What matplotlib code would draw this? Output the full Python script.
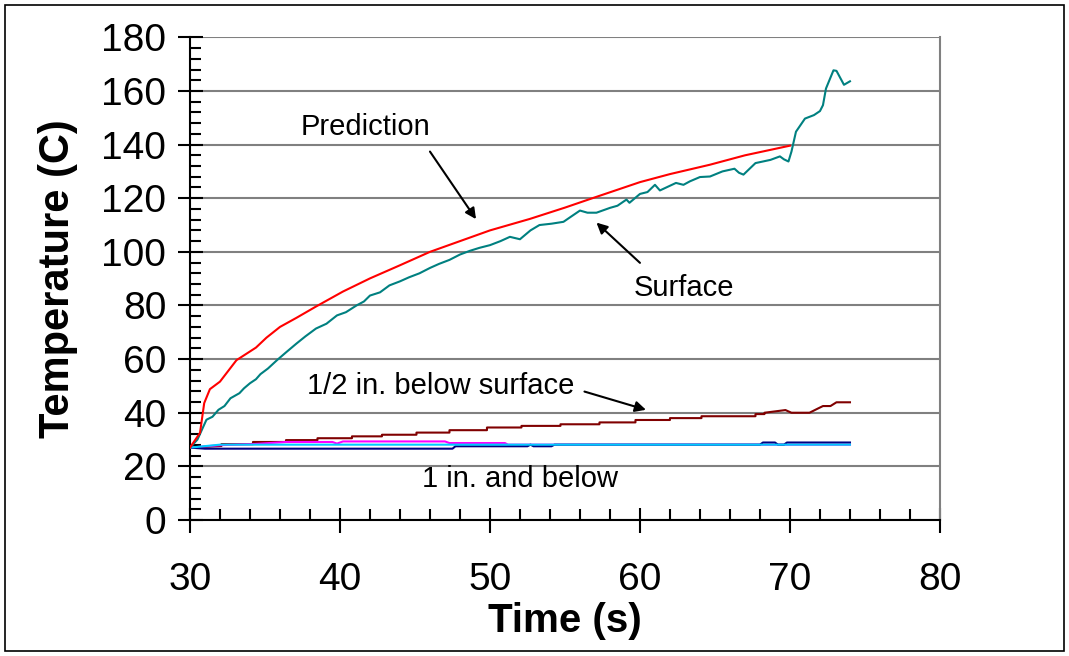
#!/usr/bin/env python3
"""Surface and in-depth temperature vs time, with model prediction."""

import matplotlib
matplotlib.use("Agg")
import matplotlib.pyplot as plt
from matplotlib.patches import Rectangle
from matplotlib.ticker import MultipleLocator

plt.rcParams["font.family"] = ["Liberation Sans", "DejaVu Sans"]

# Prediction (red)
pred_t = [30, 30.67, 30.95, 31.33, 32, 33.1, 34.4, 35.1, 36, 37.1, 38.4, 40.2, 42,
          44, 46, 48, 50, 52.67, 55, 56.67, 60, 62, 64.67, 67, 70]
pred_T = [27, 32.5, 43.6, 48.8, 51.6, 59.6, 64.3, 68, 72, 75.4, 79.6, 85.2, 90.1,
          95, 100, 104, 108, 112.3, 116.5, 119.7, 126, 129, 132.5, 136, 139.6]

# Surface thermocouple (teal)
surf_t = [30, 30.5, 30.8, 31.1, 31.5, 31.9, 32.3, 32.7, 33.3, 33.6, 34, 34.4, 34.7,
          35.2, 35.8, 36.4, 37.1, 37.7, 38.4, 39.1, 39.8, 40.4, 41.1, 41.6, 42,
          42.67, 43.3, 44, 44.6, 45.3, 46, 46.6, 47.3, 48, 48.67, 49.3, 50, 50.7,
          51.33, 52, 52.7, 53.3, 54.1, 54.9, 55.5, 56, 56.5, 57.1, 58, 58.5, 59.1,
          59.3, 60, 60.5, 61, 61.33, 62.4, 62.9, 63.33, 64, 64.67, 65.5, 66.3, 66.6,
          66.9, 67.7, 68.7, 69.33, 69.6, 69.9, 70.1, 70.4, 71, 71.6, 72, 72.2, 72.4,
          72.9, 73.1, 73.6, 74]
surf_T = [27, 30, 33.7, 37.4, 38.5, 41.1, 42.5, 45.4, 47.3, 49.1, 51, 52.5, 54.4,
          56.5, 59.6, 62.5, 65.8, 68.5, 71.4, 73.2, 76.3, 77.5, 80, 81.5, 83.7,
          84.9, 87.5, 89, 90.5, 92, 94, 95.5, 97, 99, 100.4, 101.5, 102.5, 104,
          105.6, 104.7, 108, 110, 110.5, 111.2, 113.5, 115.4, 114.6, 114.6, 116.4,
          117.2, 119.5, 118.3, 121.6, 122.3, 125, 122.9, 125.7, 125, 126.3, 127.9,
          128.1, 130, 131, 129.5, 128.8, 133.1, 134.3, 135.6, 134.5, 133.7, 137.4,
          144.8, 149.7, 151, 152.5, 154.7, 160.9, 167.7, 167.5, 162.3, 163.6]

# 1/2 in. below surface (dark red), stepwise
half_t = [30, 32.1, 32.1, 34.2, 34.2, 36.4, 36.4, 38.5, 38.5, 40.8, 40.8, 42.8, 42.8,
          45.1, 45.1, 47.3, 47.3, 49.8, 49.8, 52.1, 52.1, 54.7, 54.7, 57.3, 57.3,
          59.7, 59.7, 62, 62, 64.1, 64.1, 67.7, 67.7, 68.3, 68.3, 69.7, 70.1, 71.3,
          71.8, 72.2, 72.7, 73.1, 74]
half_T = [27, 27.6, 28.3, 28.3, 29.1, 29.1, 29.8, 29.8, 30.5, 30.5, 31.2, 31.2, 31.8,
          31.8, 32.6, 32.6, 33.5, 33.5, 34.5, 34.5, 35.1, 35.1, 35.7, 35.7, 36.4,
          36.4, 37.3, 37.3, 38, 38, 38.7, 38.7, 39.5, 39.5, 40, 41, 40, 40, 41.4,
          42.5, 42.5, 43.9, 43.9]

# 1 in. and below (magenta, navy, cyan)
mag_t = [30, 32, 34.2, 36.4, 39.5, 39.8, 40.2, 47, 47.3, 51, 51.2, 74]
mag_T = [27, 27.9, 28.3, 29.1, 29.1, 28.5, 29.3, 29.3, 28.7, 28.7, 28.1, 28.1]

navy_t = [30, 31, 47.5, 47.7, 52.5, 52.7, 52.9, 54.1, 54.3, 68, 68.2, 69, 69.2,
          69.6, 69.8, 74]
navy_T = [27, 26.6, 26.6, 27.5, 27.5, 28.1, 27.5, 27.5, 28.1, 28.1, 28.9, 28.9,
          28.1, 28.1, 28.9, 28.9]

cyan_t = [30, 32, 74]
cyan_T = [27, 28.1, 28.1]


def main():
    fig = plt.figure(figsize=(10.69, 6.56), dpi=100)
    ax = fig.add_axes([0.1777, 0.2073, 0.7016, 0.7358])

    lw = 1.5
    ax.plot(half_t, half_T, color="#800000", lw=lw, zorder=3)
    ax.plot(mag_t, mag_T, color="#FF00FF", lw=lw, zorder=3)
    ax.plot(navy_t, navy_T, color="#000080", lw=lw, zorder=3)
    ax.plot(cyan_t, cyan_T, color="#00CCFF", lw=lw, zorder=4)
    ax.plot(surf_t, surf_T, color="#008080", lw=lw, zorder=5)
    ax.plot(pred_t, pred_T, color="#FF0000", lw=lw, zorder=5)

    ax.set_xlim(30, 80)
    ax.set_ylim(0, 180)
    ax.xaxis.set_major_locator(MultipleLocator(10))
    ax.xaxis.set_minor_locator(MultipleLocator(2))
    ax.yaxis.set_major_locator(MultipleLocator(20))
    ax.yaxis.set_minor_locator(MultipleLocator(4))

    ax.grid(axis="y", which="major", color="#808080", lw=1.5, zorder=1)
    ax.set_axisbelow(True)
    ax.spines["top"].set_visible(False)
    ax.spines["right"].set_color("#808080")
    ax.spines["right"].set_linewidth(1.5)
    ax.spines["left"].set_linewidth(1.5)
    ax.spines["bottom"].set_linewidth(1.5)

    ax.tick_params(which="major", direction="inout", length=18, width=1.5,
                   labelsize=28)
    ax.tick_params(which="minor", direction="in", length=8, width=1.5)
    ax.tick_params(axis="x", which="major", pad=21)
    ax.tick_params(axis="y", which="major", pad=8)

    ax.set_xlabel("Time (s)", fontsize=29, fontweight="bold", labelpad=3)
    ax.set_ylabel("Temperature (C)", fontsize=30, fontweight="bold", labelpad=17)

    arrow = dict(arrowstyle="-|>", color="black", lw=1.5, mutation_scale=16,
                 shrinkA=0, shrinkB=0)
    ax.text(41.7, 146.5, "Prediction", fontsize=21, ha="center", va="center")
    ax.annotate("", xy=(49.07, 112.2), xytext=(46, 137.4), arrowprops=arrow)
    ax.annotate("", xy=(57.1, 110.9), xytext=(60, 95.9), arrowprops=arrow)
    ax.text(62.9, 86.7, "Surface", fontsize=21, ha="center", va="center")
    ax.annotate("", xy=(60.4, 41.1), xytext=(56.3, 47.9), arrowprops=arrow)
    ax.text(46.7, 50, "1/2 in. below surface", fontsize=21, ha="center",
            va="center")
    ax.text(52, 15.2, "1 in. and below", fontsize=21, ha="center", va="center")

    fig.patches.append(Rectangle((0.005, 0.008), 0.99, 0.984,
                                 transform=fig.transFigure, fill=False,
                                 edgecolor="black", lw=1.2))

    fig.savefig("out.png", dpi=100)


if __name__ == "__main__":
    main()
